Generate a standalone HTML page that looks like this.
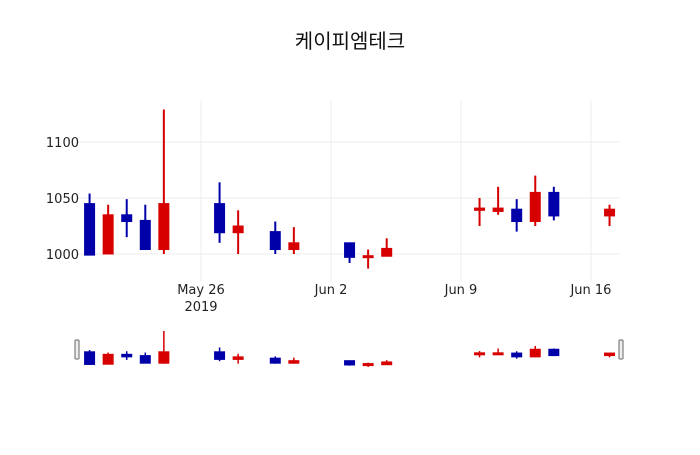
<!DOCTYPE html>
<html><head><meta charset="utf-8"><style>
body{margin:0;background:#fff}
svg text{font-family:"DejaVu Sans","Noto Sans CJK KR",sans-serif;fill:#222}
</style></head><body>
<svg id="chart" width="700" height="450">
<rect width="700" height="450" fill="#fff"/>
<text x="350" y="48" text-anchor="middle" font-size="20" style="fill:#111">케이피엠테크</text>
<g id="grid"></g><g id="candles"></g><g id="slider"></g>
</svg>
<script>
const dates=["2019-05-20","2019-05-21","2019-05-22","2019-05-23","2019-05-24","2019-05-27","2019-05-28","2019-05-30","2019-05-31","2019-06-03","2019-06-04","2019-06-05","2019-06-10","2019-06-11","2019-06-12","2019-06-13","2019-06-14","2019-06-17"];
const openV=[1045,1000,1035,1030,1004,1045,1019,1020,1004,1010,997,998,1039,1038,1040,1029,1055,1034];
const highV=[1054,1044,1049,1044,1129,1064,1039,1029,1024,1010,1004,1014,1050,1060,1049,1070,1060,1044];
const lowV=[999,1000,1015,1004,1000,1010,1000,1000,1000,992,987,998,1025,1035,1020,1025,1030,1025];
const closeV=[999,1035,1029,1004,1045,1019,1025,1004,1010,997,998.5,1005,1041,1041,1029,1055,1034,1040];
const yTicks=[1000,1050,1100];
const xTicks=["2019-05-26","2019-06-02","2019-06-09","2019-06-16"];
const xTickLabels=["May 26","Jun 2","Jun 9","Jun 16"];
const NS="http://www.w3.org/2000/svg";
const day=86400000, t0=Date.parse("2019-05-26");
const x=d=>201+(Date.parse(d)-t0)/day*18.57;
const y=v=>254-(v-1000)*1.12;
const ys=v=>367-(v-987)*(36/142);
function mk(tag,attrs,parent){const e=document.createElementNS(NS,tag);for(const k in attrs)e.setAttribute(k,attrs[k]);parent.appendChild(e);return e;}
const grid=document.getElementById('grid'),cg=document.getElementById('candles'),sg=document.getElementById('slider');
yTicks.forEach(v=>{
  const l=mk('line',{x1:78,x2:620,y1:y(v),y2:y(v),stroke:'#eee'},grid);
  
  
  const t=mk('text',{x:79,y:y(v)+5,'text-anchor':'end','font-size':13},grid);t.textContent=v;
  
  
});
xTicks.forEach((d,i)=>{
  const l=mk('line',{x1:x(d),x2:x(d),y1:100,y2:282,stroke:'#eee'},grid);
  
  
  const t=mk('text',{x:x(d),y:294,'text-anchor':'middle','font-size':13},grid);t.textContent=xTickLabels[i];
  
  
});
const yr=mk('text',{x:x(xTicks[0]),y:311,'text-anchor':'middle','font-size':13},grid);yr.textContent="2019";


dates.forEach((d,i)=>{
  const up=closeV[i]>=openV[i], col=up?'#d60000':'#0000a8';
  const cx=x(d), w=11;
  const g=mk('g',{},cg);
  
  
  mk('line',{x1:cx,x2:cx,y1:y(highV[i]),y2:y(lowV[i]),stroke:col,'stroke-width':2},g);
  const t=Math.min(y(openV[i]),y(closeV[i])),b=Math.max(y(openV[i]),y(closeV[i]));
  mk('rect',{x:cx-w/2,y:t-0.5,width:w,height:Math.max(b-t,2)+1,fill:col},g);
  const sgg=mk('g',{},sg);
  
  
  mk('line',{x1:cx,x2:cx,y1:ys(highV[i]),y2:ys(lowV[i]),stroke:col,'stroke-width':1.5},sgg);
  const st=Math.min(ys(openV[i]),ys(closeV[i])),sb=Math.max(ys(openV[i]),ys(closeV[i]));
  mk('rect',{x:cx-5.5,y:st-1,width:11,height:Math.max(sb-st,1)+2,fill:col},sgg);
});
[77,621].forEach((hx,i)=>{
  const h=mk('rect',{x:hx-2,y:340,width:4,height:19,rx:1,fill:'#eee',stroke:'#666','stroke-width':1},sg);
  
  
});
</script>
</body></html>
